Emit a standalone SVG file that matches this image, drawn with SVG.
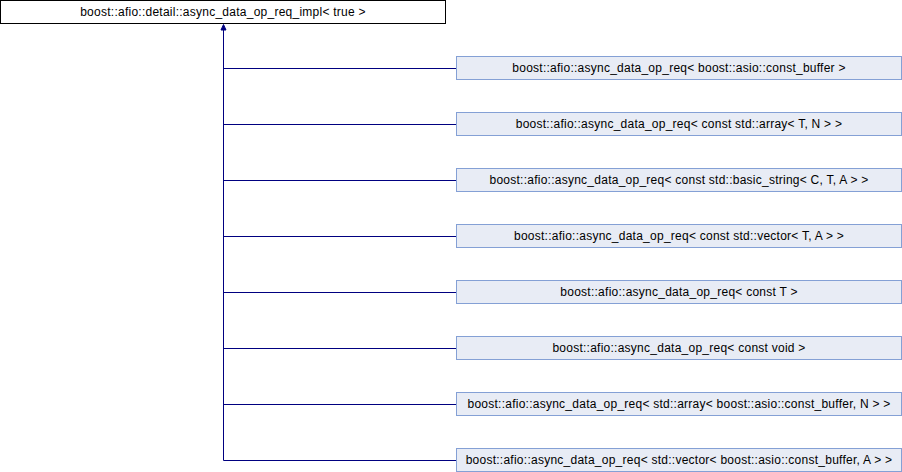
<svg xmlns="http://www.w3.org/2000/svg" width="902" height="472" viewBox="0 0 902 472">
<style>
text{font-family:"Liberation Sans",Arial,sans-serif;font-size:12px;letter-spacing:0.25px;fill:#000;text-anchor:middle}
.top rect{fill:#fff;stroke:#000;stroke-width:1}
.child rect{fill:#e8ecf5;stroke:#84a0d5;stroke-width:1}
.edge{fill:none;stroke:#000080;stroke-width:1}
.head{fill:#000080;stroke:#000080;stroke-width:1}
</style>
<g id="connectors">
<path class="edge" d="M223.5,460.5 L223.5,28"/>
<polygon class="head" points="223.5,24.5 226,30 221,30"/>
<path class="edge" d="M223.5,68.5 H456"/>
<path class="edge" d="M223.5,124.5 H456"/>
<path class="edge" d="M223.5,180.5 H456"/>
<path class="edge" d="M223.5,236.5 H456"/>
<path class="edge" d="M223.5,292.5 H456"/>
<path class="edge" d="M223.5,348.5 H456"/>
<path class="edge" d="M223.5,404.5 H456"/>
<path class="edge" d="M223.5,460.5 H456"/>
</g>
<g id="base" class="top"><rect x="0.5" y="0.5" width="445" height="23"/><text x="223" y="16">boost::afio::detail::async_data_op_req_impl&lt; true &gt;</text></g>
<g id="n1" class="child"><rect x="456.5" y="56.5" width="445" height="23"/><text x="679" y="72">boost::afio::async_data_op_req&lt; boost::asio::const_buffer &gt;</text></g>
<g id="n2" class="child"><rect x="456.5" y="112.5" width="445" height="23"/><text x="679" y="128">boost::afio::async_data_op_req&lt; const std::array&lt; T, N &gt; &gt;</text></g>
<g id="n3" class="child"><rect x="456.5" y="168.5" width="445" height="23"/><text x="679" y="184">boost::afio::async_data_op_req&lt; const std::basic_string&lt; C, T, A &gt; &gt;</text></g>
<g id="n4" class="child"><rect x="456.5" y="224.5" width="445" height="23"/><text x="679" y="240">boost::afio::async_data_op_req&lt; const std::vector&lt; T, A &gt; &gt;</text></g>
<g id="n5" class="child"><rect x="456.5" y="280.5" width="445" height="23"/><text x="679" y="296">boost::afio::async_data_op_req&lt; const T &gt;</text></g>
<g id="n6" class="child"><rect x="456.5" y="336.5" width="445" height="23"/><text x="679" y="352">boost::afio::async_data_op_req&lt; const void &gt;</text></g>
<g id="n7" class="child"><rect x="456.5" y="392.5" width="445" height="23"/><text x="679" y="408">boost::afio::async_data_op_req&lt; std::array&lt; boost::asio::const_buffer, N &gt; &gt;</text></g>
<g id="n8" class="child"><rect x="456.5" y="448.5" width="445" height="23"/><text x="679" y="464">boost::afio::async_data_op_req&lt; std::vector&lt; boost::asio::const_buffer, A &gt; &gt;</text></g>
</svg>
